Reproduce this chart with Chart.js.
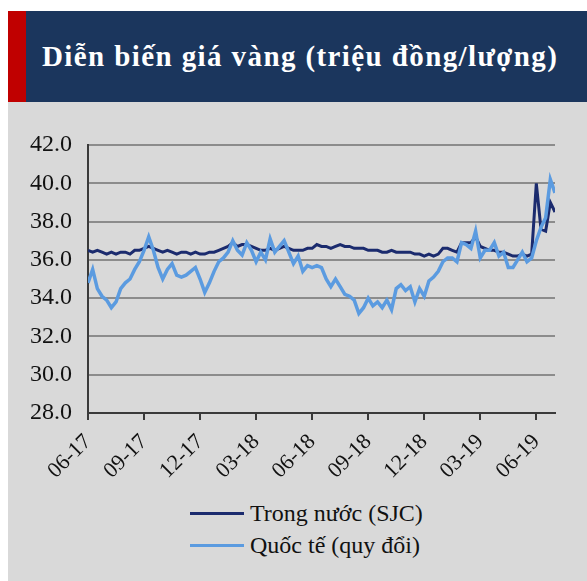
<!DOCTYPE html>
<html>
<head>
<meta charset="utf-8">
<script src="https://cdn.jsdelivr.net/npm/chart.js@4"></script>
<style>
  body { margin: 0; background: #fff; width: 587px; height: 581px; position: relative; overflow: hidden; }
  #head { position: absolute; left: 8px; top: 11px; width: 579px; height: 91px; background: #1b365d; }
  #head .red { position: absolute; left: 0; top: 0; width: 18px; height: 100%; background: #c00000; }
  #head .txt { position: absolute; left: 34px; top: 0; color: #fff;
    font: bold 29px "Liberation Serif", serif; line-height: 91px; letter-spacing: 1.4px; white-space: nowrap; }
  #panel { position: absolute; left: 8px; top: 102px; width: 579px; height: 479px; background: #d9d9d9; }
  #wrap { position: absolute; left: 0; top: 0; }
  .leg { position: absolute; left: 182px; font: 24px "Liberation Serif", serif; color: #111; }
  .leg span { display: inline-block; width: 54px; height: 3px; vertical-align: middle; margin-right: 6px; position: relative; top: -2px; }
</style>
</head>
<body>
<div id="head"><div class="red"></div><div class="txt">Diễn biến giá vàng (triệu đồng/lượng)</div></div>
<div id="panel">
  <div id="wrap"><canvas id="myChart" width="579" height="380"></canvas></div>
  <div class="leg" style="top:398px"><span style="background:#1b2b6e"></span>Trong nước (SJC)</div>
  <div class="leg" style="top:430px"><span style="background:#5b9be0"></span>Quốc tế (quy đổi)</div>
</div>
<script>
// tuần từ 06-2017 đến khoảng 07-2019 (4 điểm / tháng)
const tickLabels = ['06-17', '09-17', '12-17', '03-18', '06-18', '09-18', '12-18', '03-19', '06-19'];

const sjc = [
  36.5, 36.4, 36.5, 36.4, 36.3, 36.4, 36.3, 36.4, 36.4, 36.3,
  36.5, 36.5, 36.6, 36.7, 36.6, 36.5, 36.4, 36.5, 36.4, 36.3,
  36.4, 36.4, 36.3, 36.4, 36.3, 36.3, 36.4, 36.4, 36.5, 36.6,
  36.7, 36.9, 36.7, 36.8, 36.8, 36.7, 36.6, 36.5, 36.5, 36.6,
  36.5, 36.6, 36.7, 36.6, 36.5, 36.5, 36.5, 36.6, 36.6, 36.8,
  36.7, 36.7, 36.6, 36.7, 36.8, 36.7, 36.7, 36.6, 36.6, 36.6,
  36.5, 36.5, 36.5, 36.4, 36.4, 36.5, 36.4, 36.4, 36.4, 36.4,
  36.3, 36.3, 36.2, 36.3, 36.2, 36.3, 36.6, 36.6, 36.5, 36.4,
  36.9, 36.9, 36.9, 37.2, 36.7, 36.6, 36.5, 36.5, 36.4, 36.4,
  36.3, 36.2, 36.2, 36.3, 36.2, 36.3, 40.0, 37.6, 37.5, 39.0,
  38.5
];

const world = [
  34.8, 35.5, 34.5, 34.1, 33.9, 33.5, 33.8, 34.5, 34.8, 35.0,
  35.5, 35.9, 36.5, 37.2, 36.5, 35.6, 35.0, 35.5, 35.8, 35.2,
  35.1, 35.2, 35.4, 35.6, 35.0, 34.3, 34.8, 35.4, 35.9, 36.1,
  36.4, 37.0, 36.5, 36.25, 36.9, 36.5, 35.9, 36.4, 36.0, 37.1,
  36.4, 36.7, 37.0, 36.4, 35.8, 36.2, 35.4, 35.7, 35.6, 35.7,
  35.6, 35.0, 34.6, 35.0, 34.6, 34.2, 34.1, 33.9, 33.2, 33.5,
  34.0, 33.6, 33.8, 33.5, 33.9, 33.4, 34.5, 34.7, 34.4, 34.6,
  33.8, 34.5, 34.1, 34.9, 35.1, 35.4, 35.9, 36.1, 36.1, 35.9,
  36.9, 36.8, 36.6, 37.5, 36.1, 36.5, 36.5, 36.9, 36.2, 36.4,
  35.6, 35.6, 36.0, 36.4, 35.9, 36.1, 37.0, 37.7, 38.2, 40.2,
  39.5
];

const pts = arr => arr.map((v, i) => ({ x: i / 4, y: v }));
const serif = '"Liberation Serif", serif';

new Chart(document.getElementById('myChart'), {
  type: 'line',
  data: {
    datasets: [
      { label: 'Trong nước (SJC)', data: pts(sjc), borderColor: '#1b2b6e', borderWidth: 3, pointRadius: 0, order: 1 },
      { label: 'Quốc tế (quy đổi)', data: pts(world), borderColor: '#5b9be0', borderWidth: 3.5, pointRadius: 0, order: 0 }
    ]
  },
  options: {
    responsive: false,
    animation: false,
    layout: { padding: { top: 43, right: 32, left: 0, bottom: 0 } },
    plugins: { legend: { display: false }, tooltip: { enabled: false } },
    scales: {
      x: {
        type: 'linear', min: 0, max: 25,
        afterFit: s => { s.height = 69; },
        border: { color: '#3a3a3a', width: 2 },
        grid: { drawOnChartArea: false, drawTicks: true, tickLength: 7, color: '#3a3a3a', lineWidth: 2 },
        ticks: {
          stepSize: 3, includeBounds: false, autoSkip: false,
          minRotation: 45, maxRotation: 45, padding: 9,
          color: '#111', font: { family: serif, size: 22 },
          callback: v => tickLabels[v / 3]
        }
      },
      y: {
        min: 28, max: 42,
        afterFit: s => { s.width = 80; },
        border: { color: '#3a3a3a', width: 2 },
        grid: { color: '#8c8c8c', lineWidth: 2, drawTicks: false },
        ticks: {
          stepSize: 2, padding: 16, color: '#111',
          font: { family: serif, size: 24 },
          callback: v => v.toFixed(1)
        }
      }
    }
  }
});
</script>
</body>
</html>
